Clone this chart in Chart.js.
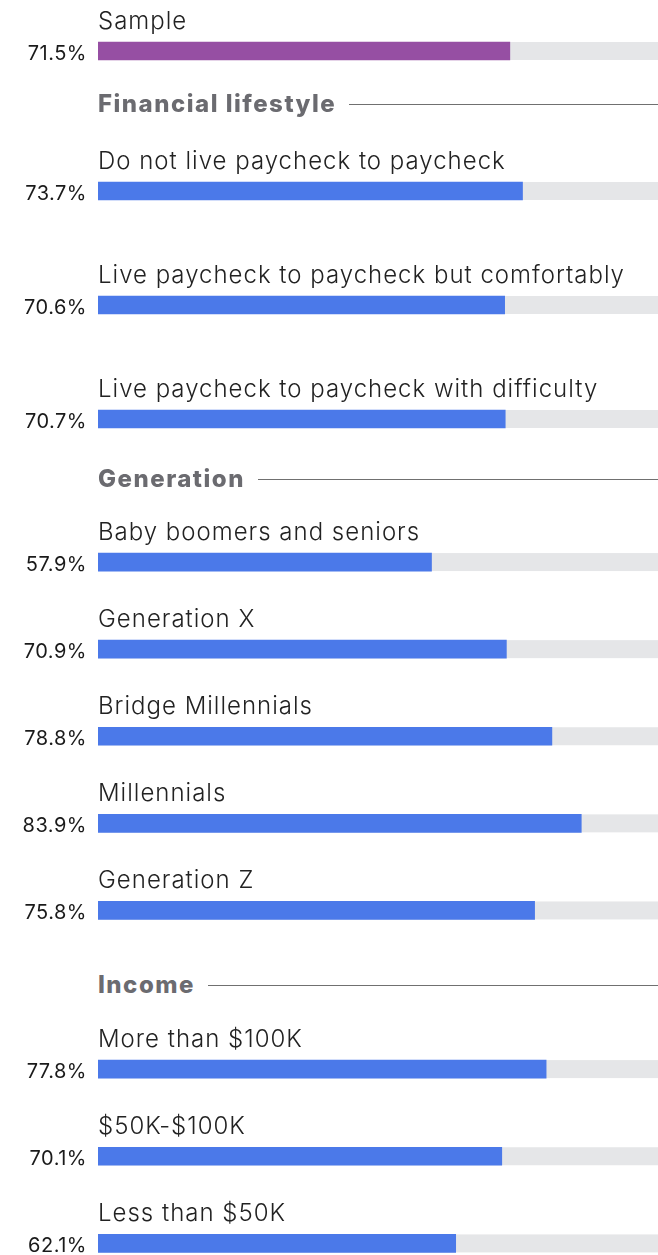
<!DOCTYPE html>
<html>
<head>
<meta charset="utf-8">
<script src="https://cdn.jsdelivr.net/npm/chart.js@4.4.1/dist/chart.umd.min.js"></script>
<style>
  html, body { margin: 0; padding: 0; background: #fff; width: 658px; height: 1255px; overflow: hidden; }
  .block { position: absolute; left: 0; }
  .heading {
    position: absolute; left: 98px; width: 560px;
    display: flex; align-items: center;
    font: 800 24px/30px Inter, "Open Sans", sans-serif; color: #6b6b70;
    letter-spacing: 1.5px;
  }
  .heading::after { content: ''; flex: 1; height: 1px; background: #707070; margin-left: 13px; }
</style>
</head>
<body>
<div class="block" style="top:6px"><canvas id="sampleChart" width="680" height="90"></canvas></div>

<div class="heading" style="top:89px">Financial lifestyle</div>
<div class="block" style="top:134px"><canvas id="financialChart" width="680" height="342"></canvas></div>

<div class="heading" style="top:464px">Generation</div>
<div class="block" style="top:518px"><canvas id="generationChart" width="680" height="436"></canvas></div>

<div class="heading" style="top:970px">Income</div>
<div class="block" style="top:1025px"><canvas id="incomeChart" width="680" height="262"></canvas></div>

<script>
// Share of respondents, by group
const sampleLabels = ['Sample'];
const sampleValues = [71.5];

const financialLabels = [
    'Do not live paycheck to paycheck',
    'Live paycheck to paycheck but comfortably',
    'Live paycheck to paycheck with difficulty'
];
const financialValues = [73.7, 70.6, 70.7];

const generationLabels = ['Baby boomers and seniors', 'Generation X', 'Bridge Millennials', 'Millennials', 'Generation Z'];
const generationValues = [57.9, 70.9, 78.8, 83.9, 75.8];

const incomeLabels = ['More than $100K', '$50K-$100K', 'Less than $50K'];
const incomeValues = [77.8, 70.1, 62.1];

const PURPLE = '#964fa3';
const BLUE = '#4b79e9';
const TRACK = '#e5e6e8';

// grey 0-100% track behind every bar
const trackPlugin = {
    id: 'track',
    beforeDatasetsDraw(chart) {
        const ctx = chart.ctx;
        const x = chart.scales.x;
        ctx.save();
        ctx.fillStyle = TRACK;
        chart.getDatasetMeta(0).data.forEach(bar => {
            const left = x.getPixelForValue(0);
            ctx.fillRect(left, bar.y - bar.height / 2, x.getPixelForValue(100) - left, bar.height);
        });
        ctx.restore();
    }
};

// category name above the bar, percentage to its left
const rowLabels = {
    id: 'rowLabels',
    afterDatasetsDraw(chart) {
        const ctx = chart.ctx;
        const left = chart.chartArea.left;
        const values = chart.data.datasets[0].data;
        ctx.save();
        ctx.textBaseline = 'alphabetic';
        chart.getDatasetMeta(0).data.forEach((bar, i) => {
            const top = bar.y - bar.height / 2;
            const bottom = bar.y + bar.height / 2;
            ctx.fillStyle = '#222';
            ctx.font = '300 24px Inter, "Open Sans", sans-serif';
            ctx.letterSpacing = '1px';
            ctx.textAlign = 'left';
            ctx.fillText(chart.data.labels[i], left, top - 13);
            ctx.fillStyle = '#1a1a1a';
            ctx.font = '400 20px Inter, "Open Sans", sans-serif';
            ctx.letterSpacing = '0.5px';
            ctx.textAlign = 'right';
            ctx.fillText(values[i].toFixed(1) + '%', left - 11, bottom);
        });
        ctx.restore();
    }
};

function makeChart(id, labels, values, color, padTop) {
    const el = document.getElementById(id);
    if (!el) return;
    new Chart(el, {
        type: 'bar',
        data: {
            labels: labels,
            datasets: [{ data: values, backgroundColor: color, barThickness: 18, borderWidth: 0 }]
        },
        options: {
            indexAxis: 'y',
            responsive: false,
            animation: false,
            layout: { padding: { left: 98, right: 6, top: padTop, bottom: 0 } },
            scales: {
                x: { display: false, min: 0, max: 100 },
                y: { display: false }
            },
            plugins: { legend: { display: false }, tooltip: { enabled: false } }
        },
        plugins: [trackPlugin, rowLabels]
    });
}

makeChart('sampleChart', sampleLabels, sampleValues, PURPLE, 0);
makeChart('financialChart', financialLabels, financialValues, BLUE, 0);
makeChart('generationChart', generationLabels, generationValues, BLUE, 0.5);
makeChart('incomeChart', incomeLabels, incomeValues, BLUE, 0.5);
</script>
</body>
</html>
